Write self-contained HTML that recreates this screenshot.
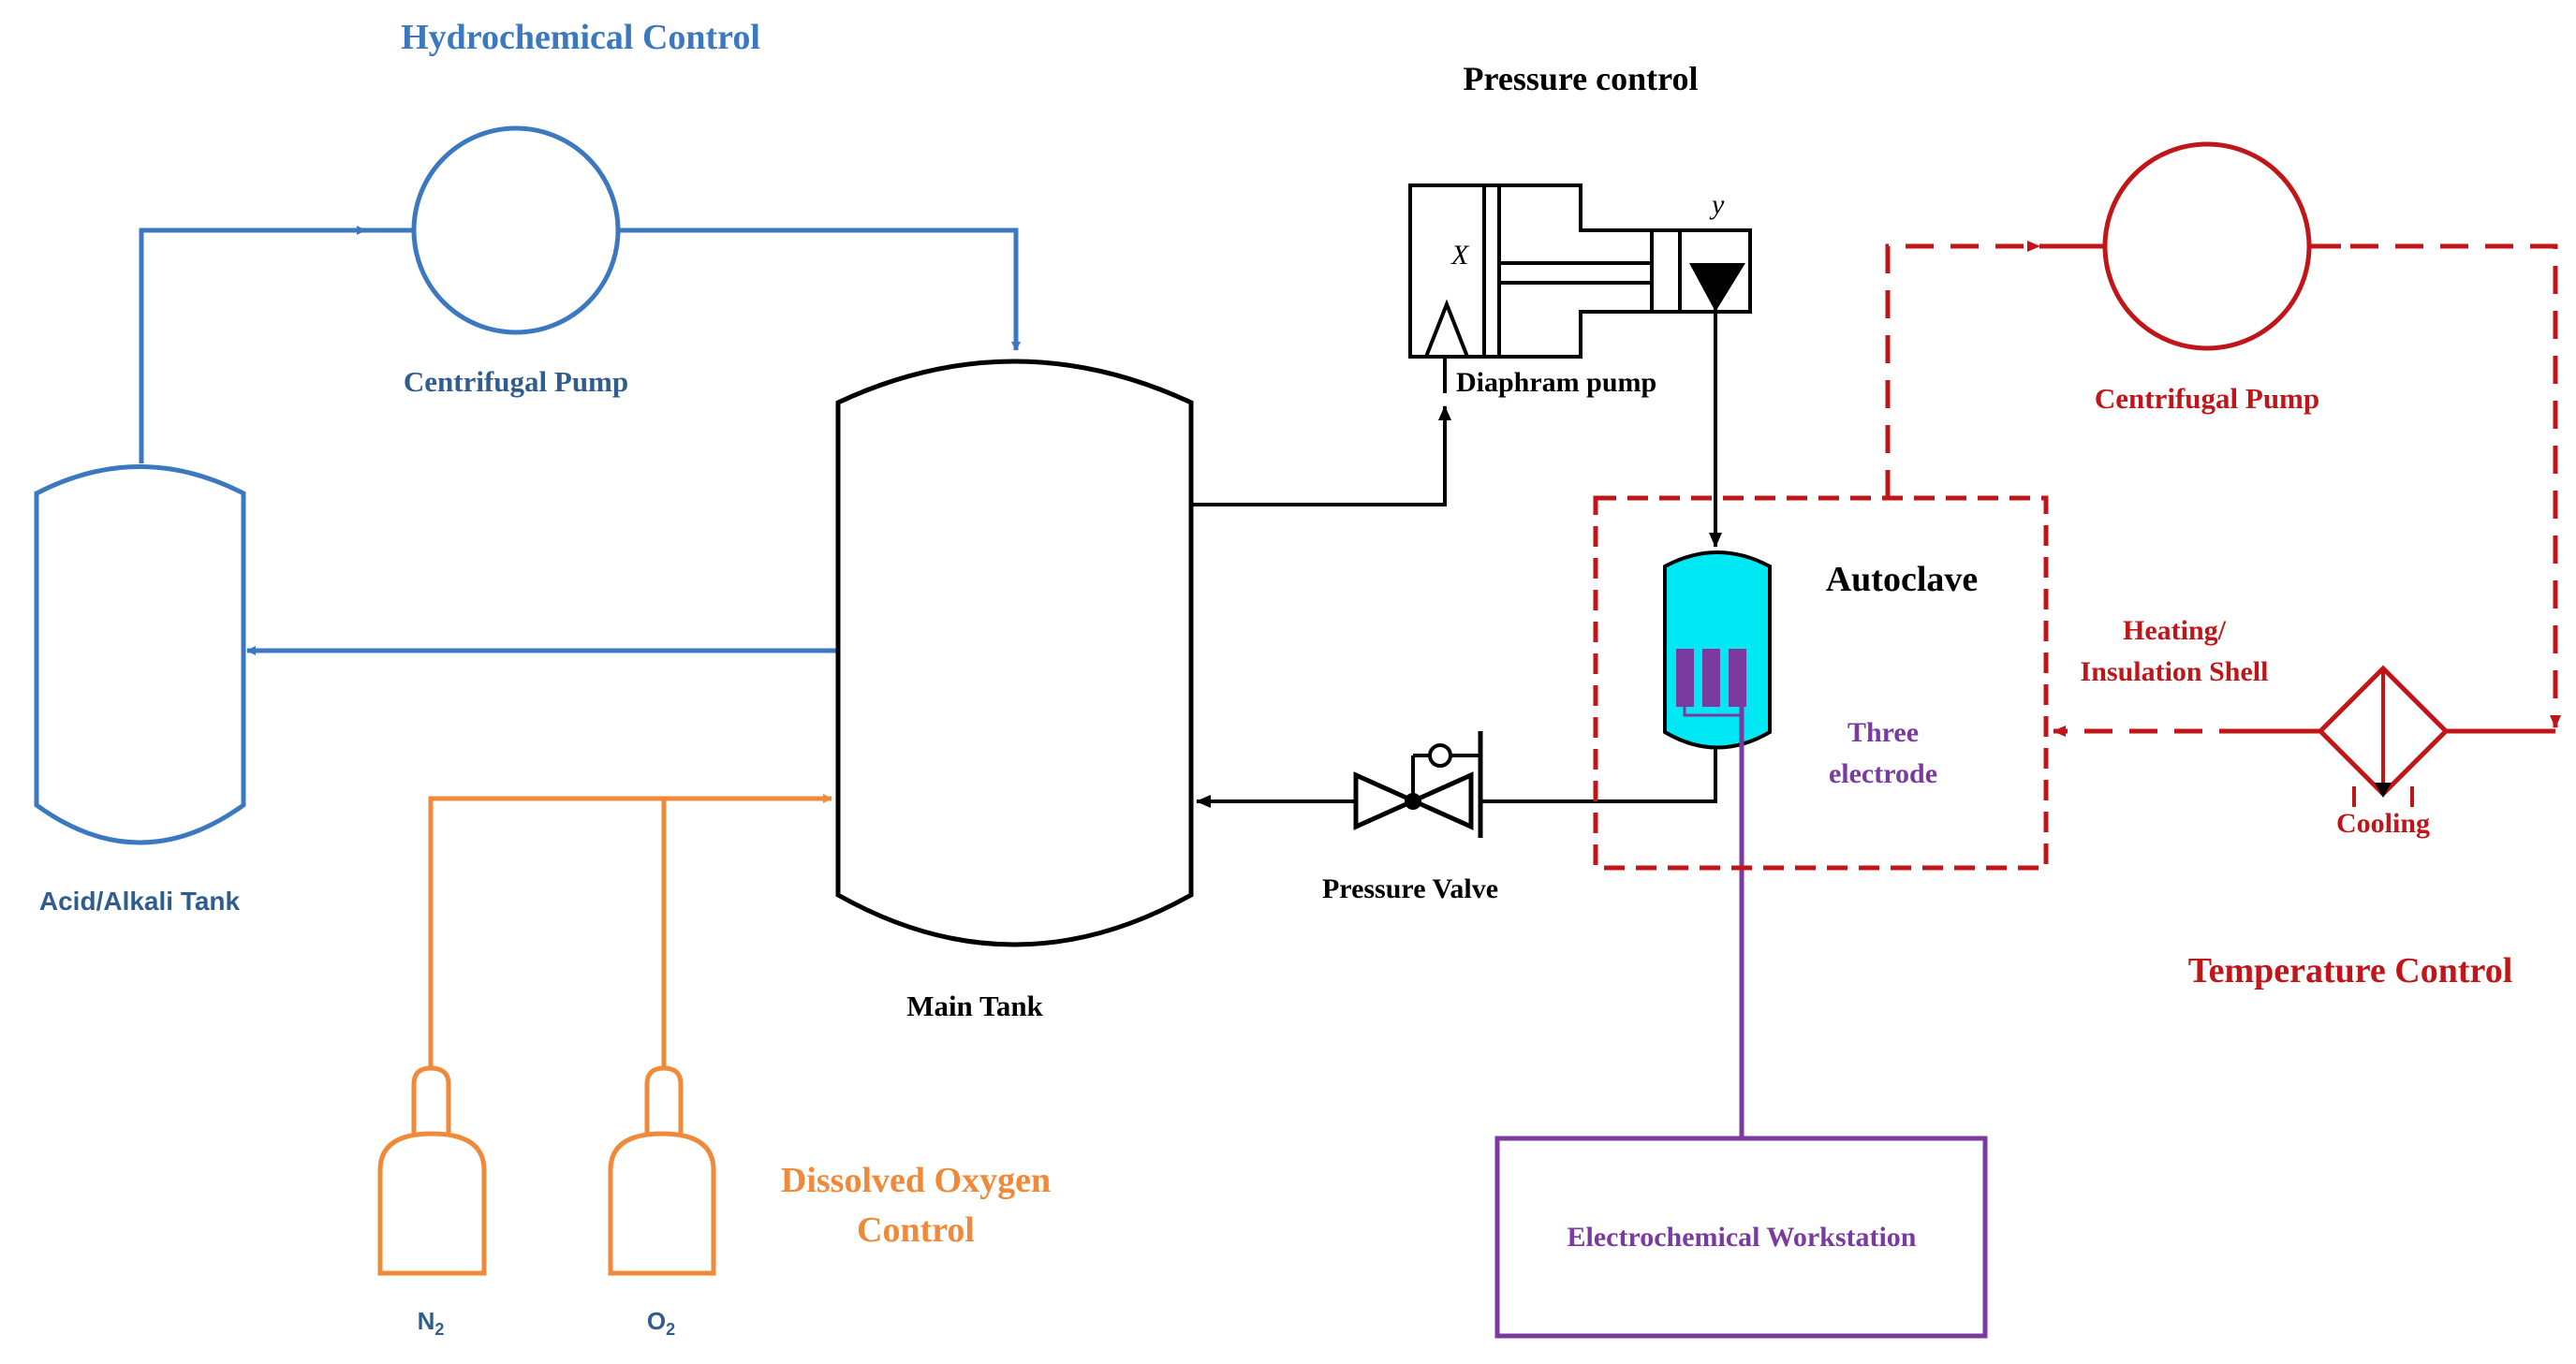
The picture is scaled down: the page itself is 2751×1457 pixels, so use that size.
<!DOCTYPE html>
<html><head><meta charset="utf-8"><style>
html,body{margin:0;padding:0;background:#fff}
svg{display:block}
.s{font-family:"Liberation Serif",serif;font-weight:bold}
.a{font-family:"Liberation Sans",sans-serif;font-weight:bold}
</style></head><body>
<svg width="2751" height="1457" viewBox="0 0 2751 1457" xmlns="http://www.w3.org/2000/svg">
<defs>
<marker id="ab" markerWidth="10" markerHeight="10" refX="9" refY="5" orient="auto" markerUnits="userSpaceOnUse"><path d="M0,0 L10,5 L0,10 z" fill="#3b78c0"/></marker>
<marker id="ao" markerWidth="10" markerHeight="10" refX="9" refY="5" orient="auto" markerUnits="userSpaceOnUse"><path d="M0,0 L10,5 L0,10 z" fill="#f08a3a"/></marker>
<marker id="ak" markerWidth="16" markerHeight="14" refX="15" refY="7" orient="auto" markerUnits="userSpaceOnUse"><path d="M0,0 L16,7 L0,14 z" fill="#000"/></marker>
<marker id="ar" markerWidth="14" markerHeight="12" refX="13" refY="6" orient="auto" markerUnits="userSpaceOnUse"><path d="M0,0 L14,6 L0,12 z" fill="#c0161a"/></marker>
</defs>

<!-- Blue -->
<g stroke="#3b78c0" stroke-width="5" fill="none">
<circle cx="551" cy="246" r="109"/>
<polyline points="151,495 151,246 390,246" marker-end="url(#ab)"/>
<line x1="386" y1="246" x2="442" y2="246"/>
<polyline points="660,246 1085,246 1085,374" marker-end="url(#ab)"/>
<path d="M39,527 Q149,470 260,527 L260,860 Q149,940 39,860 Z"/>
<line x1="895" y1="695" x2="264" y2="695" marker-end="url(#ab)"/>
</g>
<text x="620" y="52" class="s" font-size="38" fill="#3b78c0" text-anchor="middle">Hydrochemical Control</text>
<text x="551" y="418" class="s" font-size="31" fill="#2f5d8f" text-anchor="middle">Centrifugal  Pump</text>
<text x="149" y="972" class="a" font-size="28" fill="#2f5d8f" text-anchor="middle">Acid/Alkali Tank</text>

<!-- Main tank -->
<path d="M895,430 Q1083,342 1272,430 L1272,956 Q1083,1062 895,956 Z" fill="none" stroke="#000" stroke-width="5"/>
<text x="1041" y="1085" class="s" font-size="31" fill="#000" text-anchor="middle">Main Tank</text>

<!-- Orange -->
<g stroke="#f08a3a" stroke-width="5" fill="none">
<polyline points="460,1141 460,853 888,853" marker-end="url(#ao)"/>
<line x1="709" y1="853" x2="709" y2="1141"/>
<path d="M442,1211 L442,1158 Q442,1141 460,1141 Q479,1141 479,1158 L479,1211"/>
<path d="M406,1360 L406,1250 Q406,1211 461,1211 Q517,1211 517,1250 L517,1360 Z"/>
<path d="M691,1211 L691,1158 Q691,1141 709,1141 Q727,1141 727,1158 L727,1211"/>
<path d="M652,1360 L652,1250 Q652,1211 707,1211 Q762,1211 762,1250 L762,1360 Z"/>
</g>
<text x="460" y="1420" class="a" font-size="26" fill="#2f5d8f" text-anchor="middle">N<tspan font-size="18" dy="6">2</tspan></text>
<text x="706" y="1420" class="a" font-size="26" fill="#2f5d8f" text-anchor="middle">O<tspan font-size="18" dy="6">2</tspan></text>
<text x="978" y="1273" class="s" font-size="38" fill="#f08a3a" text-anchor="middle">Dissolved Oxygen</text>
<text x="978" y="1326" class="s" font-size="38" fill="#f08a3a" text-anchor="middle">Control</text>

<!-- Pressure control -->
<text x="1688" y="96" class="s" font-size="36" fill="#000" text-anchor="middle">Pressure control</text>
<g stroke="#000" stroke-width="4" fill="none">
<polygon points="1506,198 1688,198 1688,246 1869,246 1869,333 1688,333 1688,381 1506,381"/>
<line x1="1585" y1="198" x2="1585" y2="381"/>
<line x1="1601" y1="198" x2="1601" y2="381"/>
<line x1="1601" y1="281" x2="1764" y2="281"/>
<line x1="1601" y1="302" x2="1764" y2="302"/>
<line x1="1764" y1="246" x2="1764" y2="333"/>
<line x1="1794" y1="246" x2="1794" y2="333"/>
<path d="M1523,381 L1545,325 L1567,381"/>
<polyline points="1272,539 1543,539 1543,434" marker-end="url(#ak)"/>
<line x1="1543" y1="381" x2="1543" y2="420"/>
<line x1="1832" y1="320" x2="1832" y2="584" marker-end="url(#ak)"/>
</g>
<path d="M1804,281 L1864,281 L1832,333 Z" fill="#000"/>
<text x="1550" y="282" font-family="Liberation Serif,serif" font-style="italic" font-size="30">X</text>
<text x="1828" y="228" font-family="Liberation Serif,serif" font-style="italic" font-size="30">y</text>
<text x="1555" y="418" class="s" font-size="30" fill="#000">Diaphram pump</text>

<!-- Autoclave -->
<path d="M1778,605 Q1834,575 1890,605 L1890,782 Q1834,815 1778,782 Z" fill="#00e8f4" stroke="#000" stroke-width="4"/>
<g fill="#7b3aa0">
<rect x="1790" y="693" width="19" height="62"/>
<rect x="1818" y="693" width="19" height="62"/>
<rect x="1846" y="693" width="19" height="62"/>
</g>
<polyline points="1799,755 1799,764 1860,764 1860,755" fill="none" stroke="#7b3aa0" stroke-width="3"/>
<line x1="1860" y1="755" x2="1860" y2="1216" stroke="#7b3aa0" stroke-width="5"/>
<text x="2031" y="631" class="s" font-size="38" fill="#000" text-anchor="middle">Autoclave</text>
<text x="2011" y="792" class="s" font-size="30" fill="#7b3aa0" text-anchor="middle">Three</text>
<text x="2011" y="836" class="s" font-size="30" fill="#7b3aa0" text-anchor="middle">electrode</text>
<rect x="1599" y="1216" width="521" height="211" fill="none" stroke="#7b3aa0" stroke-width="5"/>
<text x="1860" y="1331" class="s" font-size="30" fill="#7b3aa0" text-anchor="middle">Electrochemical Workstation</text>

<!-- Valve -->
<g stroke="#000" stroke-width="4" fill="none">
<polyline points="1832,799 1832,856 1581,856"/>
<line x1="1581" y1="781" x2="1581" y2="895" stroke-width="5"/>
<path d="M1448,828 L1448,883 L1571,828 L1571,883 Z" stroke-width="5"/>
<line x1="1509" y1="856" x2="1509" y2="815"/>
<line x1="1509" y1="807" x2="1526" y2="807"/>
<line x1="1509" y1="807" x2="1509" y2="815"/>
<circle cx="1538" cy="807" r="11"/>
<line x1="1549" y1="807" x2="1581" y2="807"/>
<line x1="1448" y1="856" x2="1278" y2="856" marker-end="url(#ak)"/>
</g>
<circle cx="1509" cy="856" r="9" fill="#000"/>
<text x="1506" y="959" class="s" font-size="30" fill="#000" text-anchor="middle">Pressure Valve</text>

<!-- Red -->
<g stroke="#c0161a" stroke-width="5" fill="none">
<rect x="1704" y="532" width="481" height="395" stroke-dasharray="22,12"/>
<polyline points="2016,532 2016,263 2178,263" stroke-dasharray="30,18" marker-end="url(#ar)"/>
<line x1="2178" y1="263" x2="2248" y2="263"/>
<circle cx="2357" cy="263" r="109"/>
<line x1="2466" y1="263" x2="2500" y2="263"/>
<polyline points="2510,263 2729,263 2729,777" stroke-dasharray="30,18" marker-end="url(#ar)"/>
<line x1="2729" y1="781" x2="2612" y2="781"/>
<path d="M2545,714 L2612,781 L2545,848 L2478,781 Z"/>
<line x1="2545" y1="714" x2="2545" y2="848" stroke-width="4"/>
<line x1="2478" y1="781" x2="2400" y2="781"/>
<polyline points="2400,781 2193,781" stroke-dasharray="30,18" marker-end="url(#ar)"/>
<line x1="2514" y1="840" x2="2514" y2="862" stroke-width="4"/>
<line x1="2576" y1="840" x2="2576" y2="862" stroke-width="4"/>
</g>
<path d="M2536,836 L2554,836 L2545,852 Z" fill="#000"/>
<text x="2357" y="436" class="s" font-size="31" fill="#c0161a" text-anchor="middle">Centrifugal  Pump</text>
<text x="2322" y="683" class="s" font-size="30" fill="#c0161a" text-anchor="middle">Heating/</text>
<text x="2322" y="727" class="s" font-size="30" fill="#c0161a" text-anchor="middle">Insulation Shell</text>
<text x="2545" y="889" class="s" font-size="30" fill="#c0161a" text-anchor="middle">Cooling</text>
<text x="2510" y="1049" class="s" font-size="38" fill="#c0161a" text-anchor="middle">Temperature Control</text>
</svg>
</body></html>
